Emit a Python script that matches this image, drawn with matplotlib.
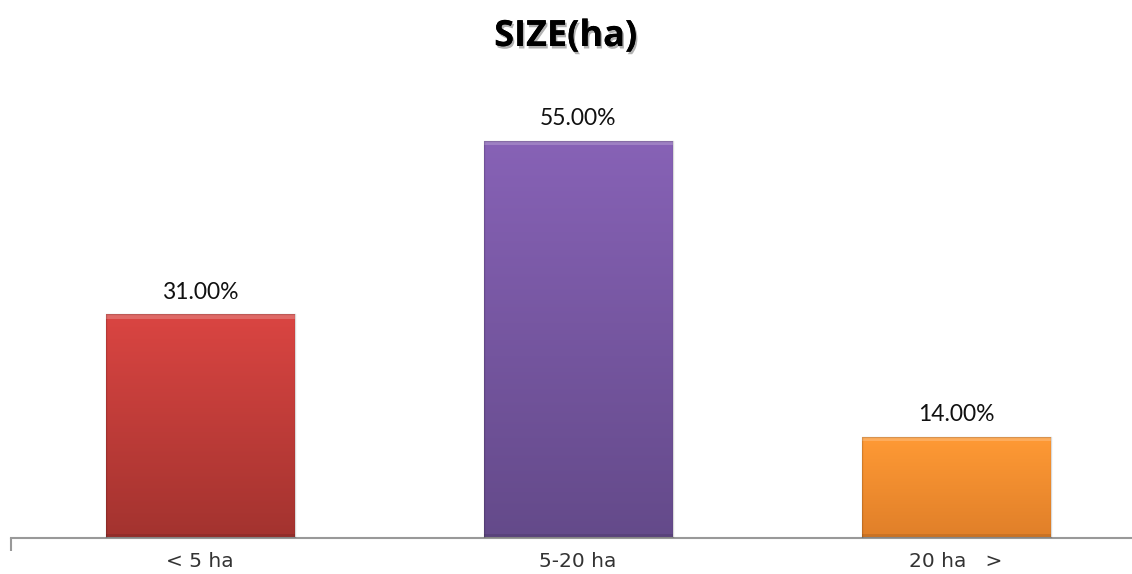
import numpy as np
import matplotlib.pyplot as plt
import matplotlib.patheffects as pe
from matplotlib.colors import LinearSegmentedColormap

categories = ['< 5 ha', '5-20 ha', '20 ha   >']
values = [31.0, 55.0, 14.0]
labels = ['31.00%', '55.00%', '14.00%']
# top / bottom colours of each bar
top_colors = ['#da4542', '#8762b6', '#ff9a35']
bottom_colors = ['#a3332f', '#644a8a', '#e07f29']

fig = plt.figure(figsize=(11.32, 5.74), dpi=100)
ax = fig.add_axes([11 / 1132, 36 / 574, 1 - 11 / 1132, (538 - 36) / 574])

x = np.arange(len(categories))
bars = ax.bar(x, values, width=0.5, color='none', edgecolor='none', zorder=2)

ax.set_xlim(-0.5, 2.5 - 13 / 378)
ax.set_ylim(0, 55 * 502 / 397)

# gradient fill with a light bevel at the top
for b, c1, c2 in zip(bars, top_colors, bottom_colors):
    x0, y0 = b.get_x(), b.get_y()
    w, h = b.get_width(), b.get_height()
    cmap = LinearSegmentedColormap.from_list('g', [c2, c1])
    grad = np.linspace(0, 1, 256).reshape(-1, 1)
    im = ax.imshow(grad, cmap=cmap, origin='lower', aspect='auto',
                   extent=[x0, x0 + w, y0, y0 + h], zorder=2)
    im.set_clip_path(b)
    ax.fill_between([x0, x0 + w], y0 + h - 0.6, y0 + h, color='white',
                    alpha=0.2, lw=0, zorder=3)
    ax.fill_between([x0, x0 + w], y0, y0 + 0.5, color='black',
                    alpha=0.1, lw=0, zorder=3)
    ax.plot([x0, x0 + w, x0 + w, x0, x0], [y0, y0, y0 + h, y0 + h, y0],
            color='black', alpha=0.15, lw=1, zorder=4)

for xi, v, lab in zip(x, values, labels):
    ax.text(xi, v + 1.6, lab, ha='center', va='bottom', fontsize=16.5,
            family='Lato', color='#111111')

for s in ['top', 'right', 'left']:
    ax.spines[s].set_visible(False)
ax.spines['bottom'].set_color('#999999')
ax.spines['bottom'].set_linewidth(1.5)
ax.set_yticks([])
ax.set_xticks([-0.5], minor=True)
ax.tick_params(axis='x', which='minor', length=9, color='#999999', width=1.5)
ax.set_xticks(x)
ax.set_xticklabels(categories, fontsize=14.5, family='DejaVu Sans', color='#333333')
ax.tick_params(axis='x', which='major', length=0, pad=10)

fig.text(0.5, 1 - 37 / 574, 'SIZE(ha)', ha='center', va='center', fontsize=26,
         fontweight='bold', family='Open Sans', color='black',
         path_effects=[pe.withSimplePatchShadow(offset=(1.2, -1.8), alpha=0.3),
                       pe.Normal()])

fig.savefig('out.png', dpi=100)
